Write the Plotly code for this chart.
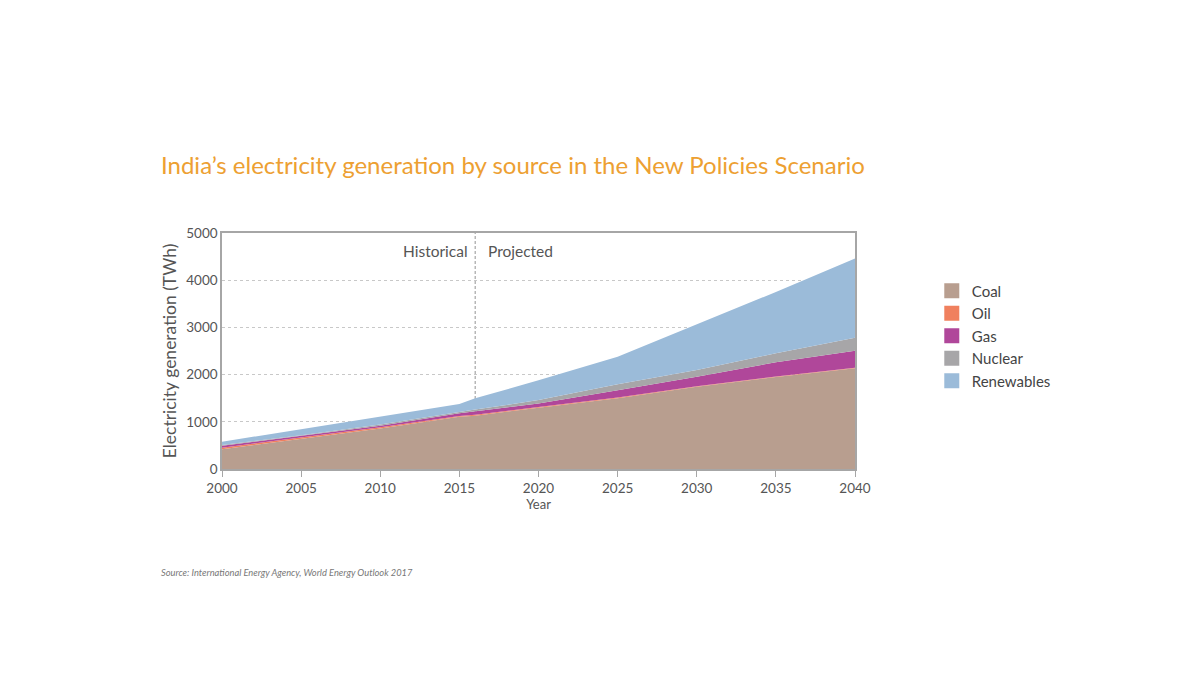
import plotly.graph_objects as go

years = [2000, 2005, 2010, 2015, 2016, 2020, 2025, 2030, 2035, 2040]
coal = [420, 640, 860, 1105, 1130, 1300, 1500, 1740, 1950, 2135]
oil = [30, 25, 25, 20, 20, 15, 15, 12, 10, 10]
gas = [44, 34, 33, 55, 70, 75, 155, 204, 300, 361]
nuclear = [17, 17, 26, 38, 38, 70, 124, 141, 191, 274]
renewables = [67, 125, 164, 159, 239, 420, 586, 963, 1299, 1680]

series = [
    ("Coal", coal, "#b89e8f"),
    ("Oil", oil, "#f0805e"),
    ("Gas", gas, "#b0479a"),
    ("Nuclear", nuclear, "#a7a6a8"),
    ("Renewables", renewables, "#9bbbd9"),
]

FONT = "Lato"
fig = go.Figure()
for name, vals, col in series:
    fig.add_trace(go.Scatter(
        x=years, y=vals, name=name, mode="lines", stackgroup="one",
        line=dict(width=0, color=col), fillcolor=col,
        hoverinfo="x+y+name", showlegend=False, legendgroup=name,
    ))
for name, vals, col in series:
    fig.add_trace(go.Scatter(
        x=[None], y=[None], name=name, mode="markers", legendgroup=name,
        marker=dict(symbol="square", size=15, color=col, line=dict(width=0)),
        showlegend=True,
    ))

fig.update_layout(
    width=1200, height=690,
    paper_bgcolor="white", plot_bgcolor="white",
    margin=dict(l=222, r=345, t=233, b=221),
    font=dict(family=FONT, color="#555555", size=13),
    showlegend=True,
    legend=dict(x=1.1213, y=0.824, xanchor="left", yanchor="top",
                font=dict(size=15, color="#444444"), traceorder="normal",
                itemwidth=30, tracegroupgap=0,
                bgcolor="rgba(0,0,0,0)"),
    xaxis=dict(range=[2000, 2040], tickvals=list(range(2000, 2041, 5)),
               showgrid=False, showline=True, linecolor="#a6a6a6", linewidth=1.5,
               ticks="outside", tickcolor="#a6a6a6", ticklen=6, mirror=True,
               title=dict(text="Year", font=dict(size=13, color="#555555"), standoff=5),
               tickfont=dict(size=13.5, color="#555555"), zeroline=False),
    yaxis=dict(range=[0, 5000], tickvals=list(range(0, 5001, 1000)),
               showgrid=True, gridcolor="#c8c8c8", griddash="3px,3px", gridwidth=1,
               showline=True, linecolor="#a6a6a6", linewidth=1.5, mirror=True,
               ticks="", zeroline=False,
               title=dict(text="Electricity generation (TWh)", font=dict(size=17.5, color="#555555"), standoff=5),
               tickfont=dict(size=13.5, color="#555555")),
    title=dict(text="India\u2019s electricity generation by source in the New Policies Scenario",
               x=161/1200, xanchor="left", y=1-166/690, yanchor="middle",
               font=dict(family=FONT, size=24, color="#eda032")),
)

fig.add_shape(type="line", x0=2016, x1=2016, y0=0, y1=5000, xref="x", yref="y",
              line=dict(color="#a6a6a6", width=1.2, dash="3px,2px"), layer="below")

fig.add_annotation(x=2015.7, y=4620, xref="x", yref="y", text="Historical",
                   showarrow=False, xanchor="right", yanchor="middle",
                   font=dict(size=15.5, color="#555555"))
fig.add_annotation(x=2016.7, y=4620, xref="x", yref="y", text="Projected",
                   showarrow=False, xanchor="left", yanchor="middle",
                   font=dict(size=15.5, color="#555555"))

fig.add_annotation(x=(159-222)/633, y=(469-572)/236, xref="paper", yref="paper",
                   text="<i>Source: International Energy Agency, World Energy Outlook 2017</i>",
                   showarrow=False, xanchor="left", yanchor="middle",
                   font=dict(size=9.3, color="#777777"))

fig.write_html("out.html")
